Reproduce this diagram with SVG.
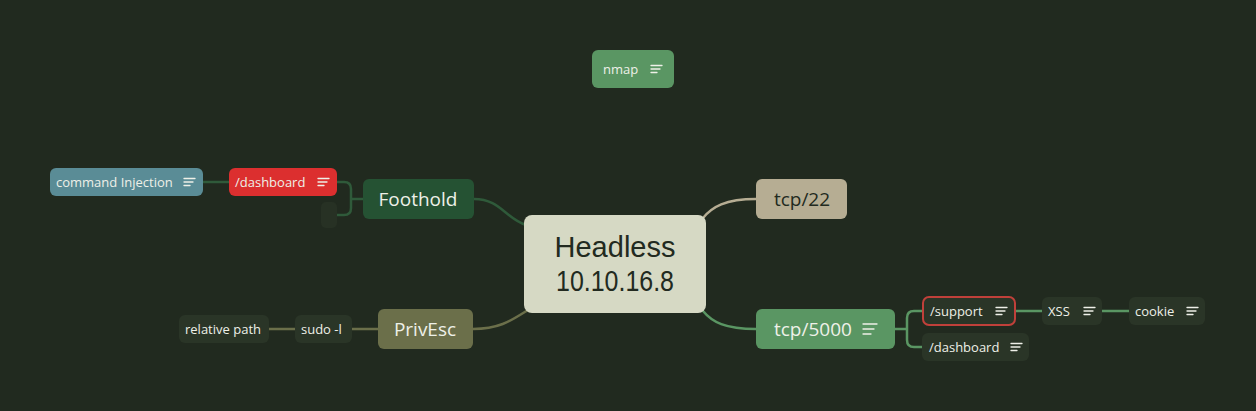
<svg xmlns="http://www.w3.org/2000/svg" width="1256" height="411" viewBox="0 0 1256 411">
<style>
.t{font-family:"Open Sans","Liberation Sans",sans-serif;fill:#eef0e8}
.s{font-size:13px}
.m{font-size:19px}
.c{font-family:"Liberation Sans","Open Sans",sans-serif;font-size:29px;fill:#222a20}
.ic{stroke:#eef0e8;stroke-width:1.3;fill:none;stroke-linecap:round}
.ln{fill:none;stroke-width:2.5;stroke-linecap:round}
</style>
<defs>
<path id="ic" d="M0 -3.5h11M0 0h9M0 3.5h6"/>
<path id="icl" d="M0 -5h14M0 0h11M0 5h8"/>
</defs>
<rect width="1256" height="411" fill="#212a1f"/>
<g id="connectors">
<path class="ln" stroke="#2f5a3a" d="M474 199C500 199 505 218 526 225"/>
<path class="ln" stroke="#b6ad93" d="M756 199C725 199 712 207 703 218"/>
<path class="ln" stroke="#5a9663" d="M756 329C725 329 712 322 703 311"/>
<path class="ln" stroke="#6b6f4a" d="M473 329C500 329 512 320 528 310"/>
<path class="ln" stroke="#2f5a3a" d="M363 199H351M337 182H344Q351 182 351 189V208Q351 215 344 215H337"/>
<path class="ln" stroke="#2f5a3a" d="M203 182H229"/>
<path class="ln" stroke="#6b6f4a" d="M352 329H378M269 329H295"/>
<path class="ln" stroke="#5a9663" d="M895 329H907M922 311H914Q907 311 907 318V340Q907 347 914 347H922"/>
<path class="ln" stroke="#5a9663" d="M1015 311H1042M1102 311H1129"/>
</g>
<g id="center">
<rect x="524" y="215" width="182" height="98" rx="8" fill="#d6d9c4"/>
<text class="c" x="615" y="257" text-anchor="middle">Headless</text>
<text class="c" x="556" y="291" textLength="118" lengthAdjust="spacingAndGlyphs">10.10.16.8</text>
</g>
<g id="nmap">
<rect x="592" y="50" width="82" height="38" rx="6" fill="#5a9663"/>
<text class="t s" x="603" y="74">nmap</text>
<use href="#ic" x="651" y="69" class="ic"/>
</g>
<g id="foothold">
<rect x="363" y="179" width="111" height="40" rx="6" fill="#255233"/>
<text class="t m" x="418" y="206" text-anchor="middle">Foothold</text>
</g>
<g id="dashboard-red">
<rect x="229" y="168" width="108" height="28" rx="6" fill="#dc2f2f"/>
<text class="t s" x="235" y="187">/dashboard</text>
<use href="#ic" x="318" y="182" class="ic"/>
</g>
<g id="placeholder">
<rect x="321" y="202" width="16" height="26" rx="5" fill="#273124"/>
</g>
<g id="command-injection">
<rect x="50" y="168" width="153" height="28" rx="6" fill="#5a8c96"/>
<text class="t s" x="56" y="187">command Injection</text>
<use href="#ic" x="184" y="182" class="ic"/>
</g>
<g id="privesc">
<rect x="378" y="309" width="95" height="40" rx="6" fill="#6b6f4a"/>
<text class="t m" x="425" y="336" text-anchor="middle">PrivEsc</text>
</g>
<g id="sudo">
<rect x="295" y="315" width="57" height="28" rx="6" fill="#2a3527"/>
<text class="t s" x="301" y="334">sudo -l</text>
</g>
<g id="relative-path">
<rect x="179" y="315" width="90" height="28" rx="6" fill="#2a3527"/>
<text class="t s" x="185" y="334">relative path</text>
</g>
<g id="tcp22">
<rect x="756" y="179" width="91" height="40" rx="6" fill="#b6ad93"/>
<text class="t m" x="802" y="206" text-anchor="middle" style="fill:#222a20">tcp/22</text>
</g>
<g id="tcp5000">
<rect x="756" y="309" width="139" height="40" rx="6" fill="#5a9663"/>
<text class="t m" x="774" y="336">tcp/5000</text>
<use href="#icl" x="863" y="329" class="ic"/>
</g>
<g id="support">
<rect x="923" y="297" width="92" height="28" rx="6" fill="#2a3527" stroke="#c0403a" stroke-width="2"/>
<text class="t s" x="930" y="316">/support</text>
<use href="#ic" x="996" y="311" class="ic"/>
</g>
<g id="dashboard">
<rect x="922" y="333" width="107" height="28" rx="6" fill="#2a3527"/>
<text class="t s" x="929" y="352">/dashboard</text>
<use href="#ic" x="1011" y="347" class="ic"/>
</g>
<g id="xss">
<rect x="1042" y="297" width="60" height="28" rx="6" fill="#2a3527"/>
<text class="t s" x="1048" y="316">XSS</text>
<use href="#ic" x="1084" y="311" class="ic"/>
</g>
<g id="cookie">
<rect x="1129" y="297" width="76" height="28" rx="6" fill="#2a3527"/>
<text class="t s" x="1135" y="316">cookie</text>
<use href="#ic" x="1187" y="311" class="ic"/>
</g>
</svg>
